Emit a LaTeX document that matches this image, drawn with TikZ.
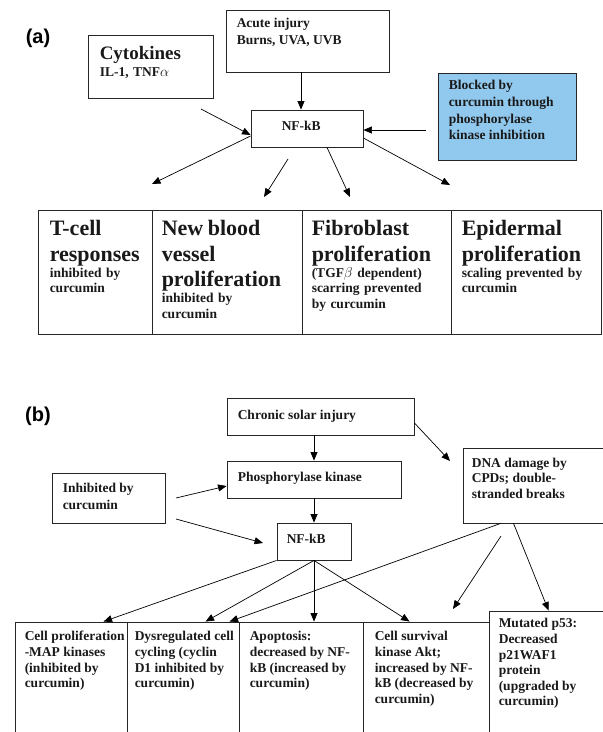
\documentclass[tikz,border=0pt]{standalone}
\usepackage{fontspec}
\setmainfont{Liberation Serif}
\newfontfamily\panelfont{Liberation Sans}
\usetikzlibrary{arrows.meta}

\definecolor{blockblue}{RGB}{145,201,238}
\newcommand{\cellhead}{\fontsize{22}{25.5}\selectfont\bfseries}
\newcommand{\cellbody}{\fontsize{13.5}{15.6}\selectfont\bfseries}

\tikzset{
  box/.style={draw=black!85, line width=0.9pt, inner sep=0pt},
  txt/.style={inner sep=0pt, anchor=north west, align=left, text=black!90, font=\cellbody},
  panel/.style={inner sep=0pt, font=\panelfont\bfseries\fontsize{20}{24}\selectfont},
  arr/.style={-{Triangle[length=8.5pt,width=7pt]}, line width=0.7pt},
}

\begin{document}
\begin{tikzpicture}[x=1pt,y=-1pt]
  \useasboundingbox (0,0) rectangle (603,732);
  \clip (0,0) rectangle (603,732);

  % (a) acute injury
  \node[panel] (lbl-a) at (38,38) {(a)};
  \node[box, minimum width=125pt, minimum height=63pt] (cyto) at (150.5,66.5) {};
  \node[box, minimum width=163pt, minimum height=62pt] (acute) at (307.5,41) {};
  \node[box, minimum width=112pt, minimum height=37pt] (nfa) at (307,128.5) {};
  \node[box, fill=blockblue, minimum width=138pt, minimum height=87pt] (blue) at (507,116.5) {};

  \node[txt, text width=101pt] (cyto-txt) at ([shift={(12,12)}]cyto.north west)
    {{\fontsize{19}{22}\selectfont\bfseries Cytokines\par}{\fontsize{13.5}{17}\selectfont\bfseries IL-1, TNF$\alpha$\par}};
  \node[txt, font=\fontsize{13.5}{17}\selectfont\bfseries] (acute-txt) at ([shift={(11,8.7)}]acute.north west)
    {Acute injury\\Burns, UVA, UVB};
  \node[txt] (nfa-txt) at ([shift={(31,11.5)}]nfa.north west) {NF-kB};
  \node[txt, font=\fontsize{13.5}{16.7}\selectfont\bfseries] (blue-txt) at ([shift={(11,7.7)}]blue.north west)
    {Blocked by\\curcumin through\\phosphorylase\\kinase inhibition};

  \node[box, minimum width=114pt, minimum height=124pt] (ta1) at (95,272) {};
  \node[box, minimum width=150pt, minimum height=124pt] (ta2) at (227,272) {};
  \node[box, minimum width=149pt, minimum height=124pt] (ta3) at (376.5,272) {};
  \node[box, minimum width=150pt, minimum height=124pt] (ta4) at (526,272) {};

  \node[txt, text width=100pt] (ta1-txt) at ([shift={(12,10.5)}]ta1.north west)
    {{\cellhead T-cell\\responses\par}\vspace{0.5pt}{\cellbody inhibited by\\curcumin\par}};
  \node[txt, text width=138pt] (ta2-txt) at ([shift={(10,10.5)}]ta2.north west)
    {{\cellhead New blood\\vessel\\proliferation\par}\vspace{0.5pt}{\cellbody inhibited by\\curcumin\par}};
  \node[txt, text width=137pt] (ta3-txt) at ([shift={(10,10.5)}]ta3.north west)
    {{\cellhead Fibroblast\\proliferation\par}\vspace{0.5pt}{\cellbody (TGF$\beta$ dependent)\\scarring prevented\\by curcumin\par}};
  \node[txt, text width=137pt] (ta4-txt) at ([shift={(11,10.5)}]ta4.north west)
    {{\cellhead Epidermal\\proliferation\par}\vspace{0.5pt}{\cellbody scaling prevented by\\curcumin\par}};

  \coordinate (a-in) at ([shift={(-6,0)}]nfa.north);
  \coordinate (cyto-out) at (201,109);
  \coordinate (blue-out) at (426,130);
  \coordinate (nfa-gap) at (288,159);
  \coordinate (ta1-in) at (152,184);
  \coordinate (ta2-in) at (264,197);
  \coordinate (ta3-in) at (350,197);
  \coordinate (ta4-in) at (450,185);

  \draw[arr] (a-in |- acute.south) -- (a-in);
  \draw[arr] (cyto-out) -- ([shift={(0,6.5)}]nfa.west);
  \draw[arr] (blue-out) -- (nfa.east |- blue-out);
  \draw[arr] ([shift={(0,7.5)}]nfa.west) -- (ta1-in);
  \draw[arr] (nfa-gap) -- (ta2-in);
  \draw[arr] ([shift={(20,0)}]nfa.south) -- (ta3-in);
  \draw[arr] ([shift={(0,9.5)}]nfa.east) -- (ta4-in);

  % (b) chronic injury
  \node[panel] (lbl-b) at (38,416) {(b)};
  \node[box, minimum width=187pt, minimum height=37pt] (chronic) at (320.5,416.5) {};
  \node[box, minimum width=174pt, minimum height=37pt] (phos) at (314,479.5) {};
  \node[box, minimum width=113pt, minimum height=50pt] (inhib) at (108.5,498) {};
  \node[box, minimum width=74pt, minimum height=37pt] (nfb) at (314,541.5) {};
  \node[box, minimum width=147pt, minimum height=75pt] (dna) at (536.5,485.5) {};

  \node[txt] (chronic-txt) at ([shift={(11,12)}]chronic.north west) {Chronic solar injury};
  \node[txt] (phos-txt) at ([shift={(11,11)}]phos.north west) {Phosphorylase kinase};
  \node[txt, font=\fontsize{13.5}{17}\selectfont\bfseries] (inhib-txt) at ([shift={(11,10)}]inhib.north west)
    {Inhibited by\\curcumin};
  \node[txt] (nfb-txt) at ([shift={(10,11.7)}]nfb.north west) {NF-kB};
  \node[txt] (dna-txt) at ([shift={(9,10)}]dna.north west)
    {DNA damage by\\CPDs; double-\\stranded breaks};

  \node[box, minimum width=112pt, minimum height=123pt] (tb1) at (71,683.5) {};
  \node[box, minimum width=112pt, minimum height=123pt] (tb2) at (183,683.5) {};
  \node[box, minimum width=124pt, minimum height=123pt] (tb3) at (301,683.5) {};
  \node[box, minimum width=126pt, minimum height=123pt] (tb4) at (426,683.5) {};
  \node[box, minimum width=121pt, minimum height=134pt] (tb5) at (549.5,678) {};

  \node[txt] (tb1-txt) at ([shift={(10,9.7)}]tb1.north west)
    {Cell proliferation\\-MAP kinases\\(inhibited by\\curcumin)};
  \node[txt] (tb2-txt) at ([shift={(8,9.7)}]tb2.north west)
    {Dysregulated cell\\cycling (cyclin\\D1 inhibited by\\curcumin)};
  \node[txt] (tb3-txt) at ([shift={(11,9.7)}]tb3.north west)
    {Apoptosis:\\decreased by NF-\\kB (increased by\\curcumin)};
  \node[txt] (tb4-txt) at ([shift={(12,9.7)}]tb4.north west)
    {Cell survival\\kinase Akt;\\increased by NF-\\kB (decreased by\\curcumin)};
  \node[txt] (tb5-txt) at ([shift={(10,7.7)}]tb5.north west)
    {Mutated p53:\\Decreased\\p21WAF1\\protein\\(upgraded by\\curcumin)};

  \coordinate (dna-in) at (450,461);
  \coordinate (inhib-out1) at (176,498);
  \coordinate (inhib-out2) at (176,519);
  \coordinate (nfb-in) at (263,543);
  \coordinate (dna-gap) at (501,536);
  \coordinate (tb4-in) at (453,609);

  \draw[arr] (phos.north |- chronic.south) -- (phos.north);
  \draw[arr] (phos.south) -- (nfb.north);
  \draw[arr] ([shift={(0,6.5)}]chronic.east) -- (dna-in);
  \draw[arr] (inhib-out1) -- ([shift={(0,6.5)}]phos.west);
  \draw[arr] (inhib-out2) -- (nfb-in);
  \draw[arr] (nfb.south west) -- ([shift={(89,0)}]tb1.north west);
  \draw[arr] (nfb.south) -- ([shift={(79,0)}]tb2.north west);
  \draw[arr] (nfb.south) -- (nfb.south |- tb3.north);
  \draw[arr] (nfb.south) -- ([shift={(47,0)}]tb4.north west);
  \draw[arr] ([shift={(38,0)}]dna.south west) -- ([shift={(103,0)}]tb2.north west);
  \draw[arr] (dna-gap) -- (tb4-in);
  \draw[arr] ([shift={(51,0)}]dna.south west) -- ([shift={(60,0)}]tb5.north west);
\end{tikzpicture}
\end{document}
